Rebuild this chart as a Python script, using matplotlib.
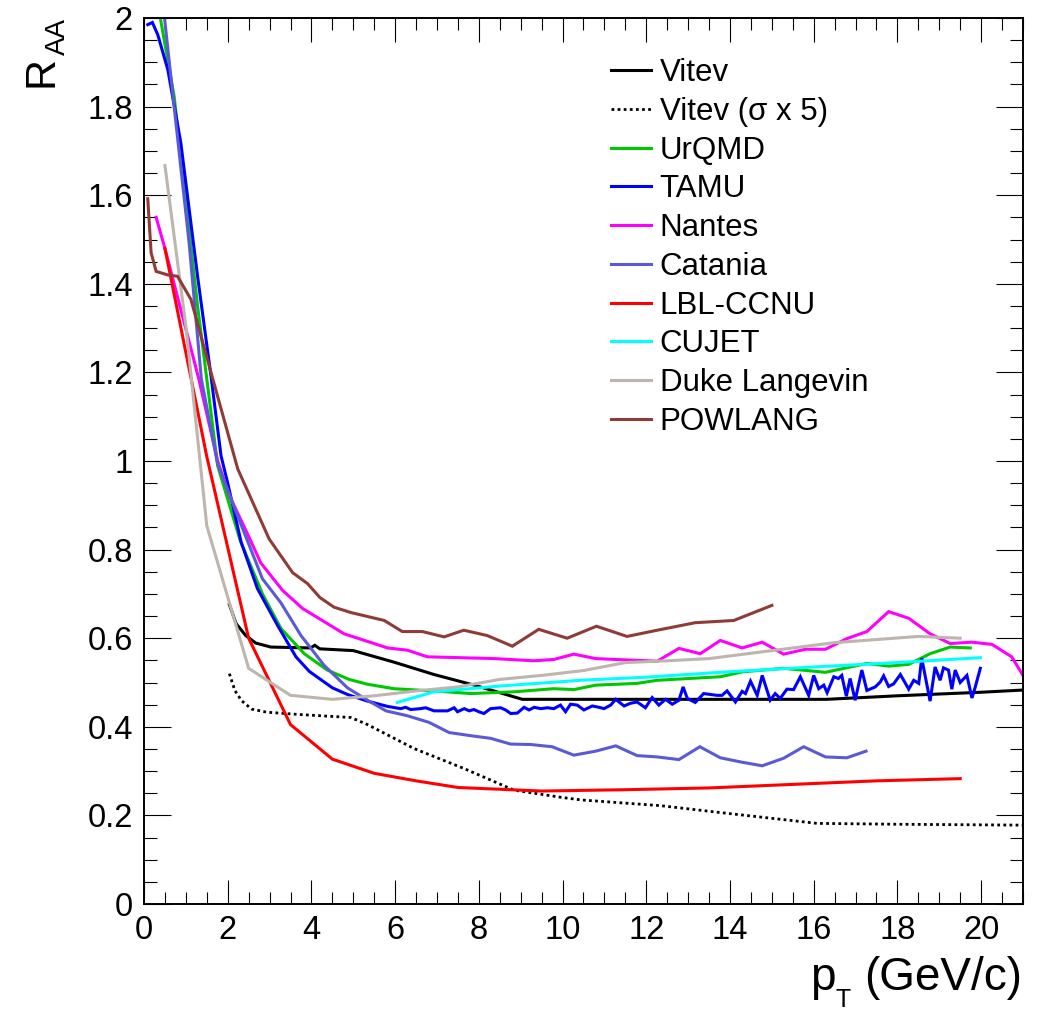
import matplotlib
matplotlib.use("Agg")
import matplotlib.pyplot as plt
from matplotlib.ticker import MultipleLocator, FuncFormatter

plt.rcParams['font.family'] = ['Liberation Sans', 'DejaVu Sans']

# ---------------- data ----------------
vitev_x = [2.04, 2.2, 2.43, 2.67, 3.03, 3.5, 3.98, 4.08, 4.2, 5.0, 5.97, 6.93, 7.89, 9.04, 10.0, 12.0, 14.0, 16.3, 18.0, 20.0, 21.0]
vitev_y = [0.676, 0.633, 0.606, 0.589, 0.580, 0.579, 0.578, 0.584, 0.576, 0.572, 0.546, 0.518, 0.494, 0.462, 0.462, 0.462, 0.462, 0.462, 0.470, 0.478, 0.483]

vitev5_x = [2.04, 2.17, 2.33, 2.57, 2.93, 3.67, 4.94, 5.34, 6.45, 7.64, 8.84, 9.95, 10.43, 12.34, 13.9, 16.08, 18.0, 21.0]
vitev5_y = [0.520, 0.482, 0.459, 0.440, 0.433, 0.428, 0.421, 0.405, 0.351, 0.306, 0.257, 0.241, 0.235, 0.222, 0.205, 0.182, 0.180, 0.178]

urqmd_x = [0.39, 0.72, 1.28, 1.52, 1.76, 2.3, 2.83, 3.27, 3.83, 4.38, 4.9, 5.34, 5.97, 7.25, 7.8, 8.84, 9.79, 10.27, 10.79, 11.78, 12.26, 13.77, 14.29, 15.28, 16.28, 17.27, 17.79, 18.27, 18.78, 19.26, 19.74]
urqmd_y = [2.0, 1.823, 1.35, 1.17, 0.989, 0.82, 0.70, 0.622, 0.565, 0.528, 0.507, 0.496, 0.486, 0.479, 0.475, 0.479, 0.486, 0.484, 0.494, 0.498, 0.505, 0.513, 0.524, 0.532, 0.523, 0.543, 0.537, 0.541, 0.565, 0.580, 0.578]

tamu_x = [0.09, 0.2, 0.33, 0.57, 0.88, 1.28, 1.6, 1.84, 2.0, 2.32, 2.71, 3.19, 3.63, 3.95, 4.5, 4.86, 5.34, 5.82,
          6.13, 6.25, 6.37, 6.61, 6.73, 6.93, 7.25, 7.41, 7.49, 7.65, 7.77, 7.88, 8.0, 8.12, 8.28, 8.52, 8.64, 8.76,
          8.92, 9.08, 9.2, 9.32, 9.48, 9.64, 9.79, 9.95, 10.07, 10.19, 10.35, 10.51, 10.71, 10.87, 10.99, 11.15,
          11.27, 11.47, 11.62, 11.78, 11.98, 12.14, 12.3, 12.46, 12.62, 12.78, 12.88, 12.98, 13.17, 13.37, 13.53,
          13.69, 13.81, 13.93, 14.13, 14.29, 14.37, 14.49, 14.65, 14.77, 14.96, 15.08, 15.2, 15.36, 15.52, 15.68,
          15.88, 16.0, 16.12, 16.24, 16.32, 16.48, 16.59, 16.67, 16.78, 16.87, 16.99, 17.15, 17.27, 17.47, 17.59,
          17.67, 17.79, 17.91, 18.07, 18.27, 18.39, 18.51, 18.58, 18.78, 18.9, 19.02, 19.1, 19.22, 19.3, 19.38,
          19.5, 19.66, 19.78, 19.86, 19.98]
tamu_y = [1.985, 1.99, 1.962, 1.883, 1.718, 1.417, 1.192, 1.012, 0.95, 0.817, 0.712, 0.629, 0.558, 0.525, 0.488, 0.473, 0.458, 0.446,
          0.441, 0.444, 0.439, 0.441, 0.443, 0.436, 0.436, 0.443, 0.434, 0.441, 0.436, 0.439, 0.434, 0.430, 0.441, 0.443, 0.438, 0.430,
          0.431, 0.444, 0.438, 0.444, 0.441, 0.443, 0.441, 0.449, 0.434, 0.451, 0.449, 0.438, 0.447, 0.444, 0.441, 0.449,
          0.462, 0.447, 0.453, 0.456, 0.443, 0.466, 0.449, 0.462, 0.451, 0.460, 0.490, 0.464, 0.455, 0.475, 0.473,
          0.471, 0.471, 0.481, 0.456, 0.480, 0.475, 0.503, 0.471, 0.516, 0.460, 0.475, 0.464, 0.485, 0.484, 0.513,
          0.471, 0.516, 0.486, 0.494, 0.477, 0.513, 0.509, 0.516, 0.469, 0.509, 0.460, 0.528, 0.482, 0.490, 0.501,
          0.515, 0.491, 0.497, 0.518, 0.485, 0.505, 0.498, 0.555, 0.458, 0.535, 0.505, 0.533, 0.528, 0.485, 0.528,
          0.500, 0.516, 0.465, 0.490, 0.532]

nantes_x = [0.29, 0.5, 0.94, 1.31, 1.76, 2.04, 2.5, 2.79, 3.31, 3.79, 4.78, 5.82, 6.29, 6.77, 8.36, 9.31, 9.79, 10.27, 10.79, 11.27, 11.78, 12.26, 12.78, 13.29, 13.77, 14.29, 14.77, 15.28, 15.8, 16.28, 16.79, 17.27, 17.79, 18.27, 18.78, 19.26, 19.78, 20.26, 20.73, 21.25]
nantes_y = [1.55, 1.48, 1.32, 1.185, 1.0, 0.922, 0.83, 0.77, 0.708, 0.667, 0.610, 0.578, 0.573, 0.558, 0.554, 0.549, 0.552, 0.564, 0.554, 0.552, 0.550, 0.548, 0.577, 0.565, 0.595, 0.578, 0.591, 0.564, 0.575, 0.575, 0.599, 0.615, 0.660, 0.645, 0.610, 0.588, 0.591, 0.586, 0.558, 0.477]

catania_x = [0.49, 0.72, 1.08, 1.37, 1.76, 2.2, 2.83, 3.27, 3.75, 4.3, 4.86, 5.34, 5.78, 6.29, 6.81, 7.29, 7.8, 8.28, 8.76, 9.24, 9.75, 10.27, 10.79, 11.27, 11.78, 12.26, 12.78, 13.28, 13.77, 14.29, 14.77, 15.28, 15.76, 16.28, 16.79, 17.25]
catania_y = [2.0, 1.80, 1.49, 1.185, 0.993, 0.885, 0.734, 0.68, 0.606, 0.539, 0.488, 0.460, 0.436, 0.425, 0.410, 0.387, 0.380, 0.374, 0.361, 0.360, 0.355, 0.336, 0.345, 0.357, 0.335, 0.332, 0.326, 0.355, 0.330, 0.320, 0.312, 0.329, 0.355, 0.332, 0.330, 0.345]

lbl_x = [0.5, 1.5, 2.5, 3.5, 4.5, 5.5, 6.5, 7.5, 9.5, 11.5, 13.5, 15.5, 17.5, 19.5]
lbl_y = [1.48, 1.01, 0.60, 0.405, 0.327, 0.295, 0.278, 0.263, 0.255, 0.258, 0.262, 0.270, 0.278, 0.283]

cujet_x = [6.05, 6.93, 8.5, 10.43, 12.0, 13.77, 16.0, 18.0, 19.98]
cujet_y = [0.455, 0.479, 0.492, 0.505, 0.512, 0.523, 0.535, 0.545, 0.556]

duke_x = [0.5, 1.0, 1.5, 2.5, 3.5, 4.5, 5.5, 6.5, 7.5, 8.5, 9.5, 10.5, 11.5, 12.5, 13.5, 14.5, 15.5, 16.5, 17.5, 18.5, 19.5]
duke_y = [1.667, 1.305, 0.854, 0.532, 0.471, 0.462, 0.470, 0.481, 0.490, 0.507, 0.516, 0.527, 0.545, 0.549, 0.554, 0.566, 0.578, 0.590, 0.597, 0.604, 0.600]

powlang_x = [0.09, 0.17, 0.29, 0.57, 0.8, 1.12, 1.6, 2.24, 2.99, 3.55, 3.91, 4.2, 4.54, 4.94, 5.74, 6.17, 6.65, 7.17, 7.64, 8.2, 8.8, 9.43, 10.11, 10.81, 11.54, 12.26, 13.17, 14.09, 15.0]
powlang_y = [1.592, 1.47, 1.428, 1.42, 1.417, 1.365, 1.2, 0.982, 0.824, 0.748, 0.723, 0.692, 0.670, 0.658, 0.640, 0.615, 0.615, 0.603, 0.618, 0.606, 0.582, 0.620, 0.600, 0.627, 0.604, 0.618, 0.635, 0.640, 0.674]

labels = ["Vitev", "Vitev (\u03c3 x 5)", "UrQMD", "TAMU", "Nantes", "Catania", "LBL-CCNU", "CUJET", "Duke Langevin", "POWLANG"]
colors = ["black", "black", "#00c800", "#0000ff", "#ff00ff", "#5a5ad8", "#ff0000", "#00ffff", "#bdb5ae", "#8f3b36"]

# ---------------- figure ----------------
W, H = 1045, 1011
fig = plt.figure(figsize=(W / 100, H / 100), dpi=100)
ax = fig.add_axes([144 / W, 1 - 904 / H, (1023 - 144) / W, (904 - 18) / H])

series = [(vitev_x, vitev_y), (vitev5_x, vitev5_y), (urqmd_x, urqmd_y), (tamu_x, tamu_y),
          (nantes_x, nantes_y), (catania_x, catania_y), (lbl_x, lbl_y), (cujet_x, cujet_y),
          (duke_x, duke_y), (powlang_x, powlang_y)]
lw = 2.2
handles = []
for i, ((xs, ys), lab, c) in enumerate(zip(series, labels, colors)):
    if i == 1:
        h, = ax.plot(xs, ys, color=c, lw=2.0, linestyle=(0, (1.0, 1.2)), label=lab)
    else:
        h, = ax.plot(xs, ys, color=c, lw=lw, label=lab, solid_joinstyle='miter')
    handles.append(h)

ax.set_xlim(0, 21)
ax.set_ylim(0, 2)
ax.xaxis.set_major_locator(MultipleLocator(2))
ax.xaxis.set_minor_locator(MultipleLocator(0.5))
ax.yaxis.set_major_locator(MultipleLocator(0.2))
ax.yaxis.set_minor_locator(MultipleLocator(0.05))
ax.yaxis.set_major_formatter(FuncFormatter(lambda v, p: "%g" % round(v, 3)))
ax.xaxis.set_major_formatter(FuncFormatter(lambda v, p: "%g" % round(v, 3)))

ax.tick_params(which='both', direction='in', top=True, right=True, width=0.8, colors='black',
               labelsize=23.5)
ax.tick_params(axis='x', which='major', length=17, pad=8)
ax.tick_params(axis='x', which='minor', length=8.5)
ax.tick_params(axis='y', which='major', length=19.5, pad=8)
ax.tick_params(axis='y', which='minor', length=9.5)
for s in ax.spines.values():
    s.set_linewidth(1.4)

# axis titles (ROOT-like, built from pieces)
fig.text(1022 / W, 1 - 990 / H, "(GeV/c)", ha='right', va='baseline', fontsize=33)
fig.text(810 / W, 1 - 990 / H, "p", ha='left', va='baseline', fontsize=33)
fig.text(836 / W, 1 - 1007 / H, "T", ha='left', va='baseline', fontsize=18)

fig.text(22 / W, 1 - 87 / H, "R", rotation=90, ha='left', va='bottom', fontsize=31)
fig.text(45 / W, 1 - 18 / H, "AA", rotation=90, ha='left', va='top', fontsize=20)

leg = ax.legend(handles=handles, loc='upper left', bbox_to_anchor=(611 / W, 1 - 58 / H),
                bbox_transform=fig.transFigure, frameon=False, fontsize=22.5,
                handlelength=1.28, handletextpad=0.28, labelspacing=0.28,
                borderpad=0, borderaxespad=0)

fig.savefig("out.png", dpi=100)
